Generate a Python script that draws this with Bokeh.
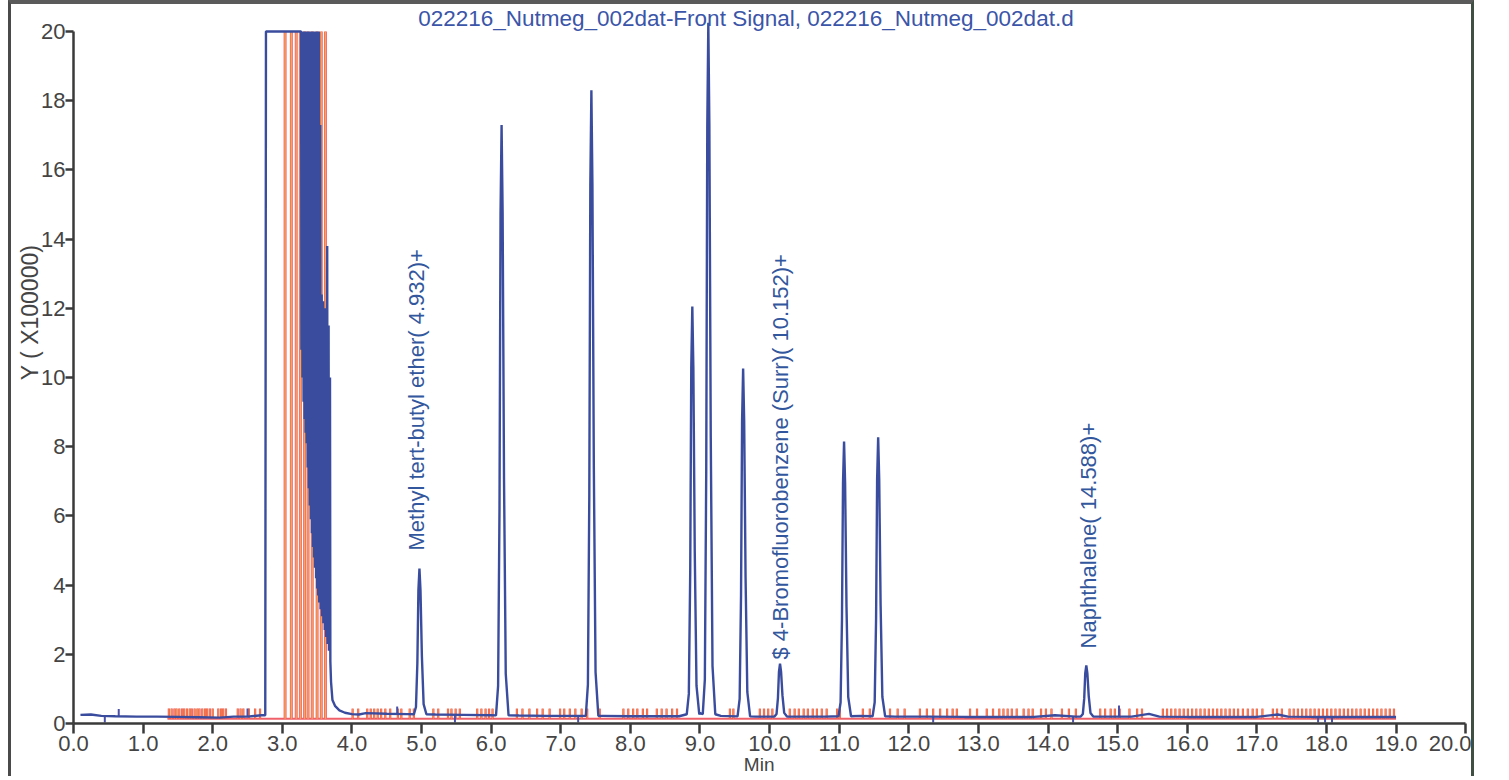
import numpy as np
from math import pi
from bokeh.plotting import figure
from bokeh.models import Range1d, FixedTicker, Label, ColumnDataSource, LinearAxis
from bokeh.core.properties import value
from bokeh.embed import file_html
from bokeh.resources import INLINE

# ---------------- data ----------------
title_text = "022216_Nutmeg_002dat-Front Signal, 022216_Nutmeg_002dat.d"
x_label = "Min"
y_label = "Y ( X100000)"
x_ticks = [float(i) for i in range(0, 21)]
x_tick_labels = ["0.0", "1.0", "2.0", "3.0", "4.0", "5.0", "6.0", "7.0", "8.0", "9.0", "10.0",
                 "11.0", "12.0", "13.0", "14.0", "15.0", "16.0", "17.0", "18.0", "19.0", "20.0"]
y_ticks = [0, 2, 4, 6, 8, 10, 12, 14, 16, 18, 20]
y_tick_labels = ["0", "2", "4", "6", "8", "10", "12", "14", "16", "18", "20"]

# baseline samples (min, signal in units of 100000)
base_t = [0.1, 0.25, 0.4, 0.6, 0.9, 1.2, 1.5, 1.8, 2.1, 2.3, 2.5, 2.7,
          4.2, 4.5, 4.8, 5.2, 5.6, 6.0, 6.4, 6.8, 7.1, 7.6, 8.0, 8.4, 8.7, 9.0, 9.3, 9.8,
          10.4, 10.8, 11.3, 11.8, 12.3, 12.8, 13.3, 13.8, 14.1, 14.4, 14.8, 15.2, 15.45, 15.6,
          16.0, 16.5, 17.0, 17.3, 17.45, 17.8, 18.3, 18.7, 19.0]
base_v = [0.25, 0.26, 0.22, 0.21, 0.2, 0.2, 0.19, 0.18, 0.17, 0.2, 0.2, 0.24,
          0.3, 0.28, 0.27, 0.26, 0.25, 0.24, 0.23, 0.22, 0.22, 0.22, 0.21, 0.21, 0.21, 0.3, 0.22, 0.2,
          0.2, 0.2, 0.22, 0.2, 0.2, 0.19, 0.19, 0.19, 0.24, 0.2, 0.2, 0.2, 0.28, 0.2,
          0.19, 0.19, 0.19, 0.26, 0.2, 0.19, 0.19, 0.19, 0.19]

# solvent front, clipped at full scale (min, signal)
solvent_t = [2.755, 2.765, 3.27,
             3.275, 3.285, 3.29, 3.30, 3.305, 3.315, 3.32, 3.33, 3.335, 3.345, 3.35, 3.36,
             3.365, 3.375, 3.38, 3.39, 3.395, 3.405, 3.41, 3.42, 3.425, 3.435, 3.44, 3.45,
             3.455, 3.465, 3.47, 3.48, 3.485, 3.495, 3.50, 3.51, 3.515, 3.525,
             3.53, 3.545, 3.55, 3.565, 3.57, 3.585, 3.59, 3.605, 3.61, 3.625, 3.63, 3.645,
             3.65, 3.665, 3.67, 3.685, 3.69,
             3.70, 3.72, 3.76, 3.82, 3.90, 4.00, 4.10]
solvent_v = [0.24, 20.0, 20.0,
             10.8, 20.0, 10.0, 20.0, 9.3, 20.0, 8.8, 20.0, 8.4, 20.0, 8.1, 20.0,
             7.4, 20.0, 6.8, 20.0, 6.3, 20.0, 5.9, 20.0, 5.5, 20.0, 5.1, 20.0,
             4.8, 20.0, 4.5, 20.0, 4.2, 20.0, 3.9, 20.0, 3.7, 20.0,
             3.5, 17.3, 3.3, 12.4, 3.1, 12.2, 2.9, 12.0, 2.7, 12.0, 2.5, 13.8,
             2.3, 11.5, 2.1, 10.0, 1.8,
             1.2, 0.68, 0.5, 0.38, 0.31, 0.27, 0.26]

# resolved peaks
peak_rt = [4.97, 6.15, 7.44, 8.89, 9.12, 9.62, 10.15, 11.07, 11.56, 14.55]
peak_height = [4.48, 17.3, 18.3, 12.05, 20.25, 10.26, 1.73, 8.15, 8.27, 1.68]
# peak profile as seen on the trace: offset (min) and fraction of height
profile_dt = [-0.08, -0.05, -0.03, -0.015, 0.0, 0.015, 0.035, 0.06, 0.10]
profile_f = [0.0, 0.05, 0.35, 0.85, 1.0, 0.85, 0.4, 0.07, 0.0]

# identified compounds
peak_labels = ["Methyl tert-butyl ether( 4.932)+",
               "$ 4-Bromofluorobenzene (Surr)( 10.152)+",
               "Naphthalene( 14.588)+"]
label_rt = [4.932, 10.152, 14.588]
label_y = [5.0, 1.85, 2.17]

# integration event marks
mark_span = [1.35, 19.0]
mark_floor = 0.14
mark_top = 0.43
mark_t = [1.37, 1.41, 1.45, 1.48, 1.52, 1.56, 1.59, 1.63, 1.67, 1.70, 1.74, 1.78, 1.81, 1.85,
          1.89, 1.92, 1.96, 2.00, 2.08, 2.12, 2.15, 2.19, 2.36, 2.40, 2.44, 2.52, 2.61, 2.68,
          4.01, 4.09, 4.22, 4.27, 4.32, 4.37, 4.42, 4.48, 4.55, 4.66, 4.71, 4.83, 4.89,
          5.17, 5.24, 5.38, 5.43, 5.49, 5.55, 5.80, 5.86, 5.92, 5.97, 6.02,
          6.37, 6.45, 6.55, 6.66, 6.74, 6.84, 6.99, 7.05, 7.13, 7.21, 7.30, 7.38, 7.56,
          7.90, 7.97, 8.04, 8.10, 8.18, 8.24, 8.38, 8.45, 8.52, 8.60, 8.67, 9.43, 9.48,
          9.86, 9.92, 9.98, 10.04, 10.29, 10.36, 10.42, 10.49, 10.55, 10.62, 10.68, 10.75, 10.82,
          10.97, 11.01, 11.34, 11.44, 11.73, 11.84, 11.94, 12.16, 12.26, 12.35, 12.45, 12.55,
          12.63, 12.69, 12.88, 12.98, 13.12, 13.21, 13.30, 13.36, 13.42, 13.48, 13.55, 13.65,
          13.72, 13.78, 13.90, 13.97, 14.05, 14.20, 14.30, 14.40,
          14.75, 14.82, 14.90, 14.96, 15.03, 15.17, 15.28, 15.35, 15.65, 15.71, 15.77, 15.83,
          15.89, 15.95, 16.01, 16.07, 16.13, 16.19, 16.25, 16.31, 16.37, 16.43, 16.49, 16.55,
          16.61, 16.67, 16.73, 16.80, 16.87, 16.94, 17.00, 17.08, 17.23, 17.29, 17.36,
          17.47, 17.53, 17.59, 17.65, 17.71, 17.77, 17.83, 17.89, 17.95, 18.01, 18.07, 18.13,
          18.19, 18.25, 18.31, 18.37, 18.43, 18.49, 18.55, 18.61, 18.67, 18.73, 18.79, 18.85,
          18.91, 18.97]
solvent_mark_t = [3.04, 3.13, 3.20, 3.26, 3.32, 3.37, 3.43, 3.50, 3.56, 3.62]
solvent_mark_top = 20.0

# small detector event ticks (min, end value)
event_t = [0.45, 0.65, 2.50, 4.65, 5.48, 7.25, 12.35, 14.36, 15.02, 17.88, 17.98, 18.08]
event_v = [0.03, 0.42, 0.43, 0.49, 0.03, 0.03, 0.03, 0.03, 0.52, 0.03, 0.03, 0.03]

# ---------------- build the trace ----------------
pts = []
windows = [(rt + profile_dt[0], rt + profile_dt[-1]) for rt in peak_rt]
for t, v in zip(base_t, base_v):
    if any(a <= t <= b for a, b in windows):
        continue
    if solvent_t[0] <= t <= solvent_t[-1]:
        continue
    pts.append((t, v))
for t, v in zip(solvent_t, solvent_v):
    pts.append((t, v))
for rt, h in zip(peak_rt, peak_height):
    b = float(np.interp(rt, base_t, base_v))
    for dt, f in zip(profile_dt, profile_f):
        pts.append((rt + dt, b + f * (h - b)))
pts.sort(key=lambda p: p[0])
trace = ColumnDataSource(dict(t=[p[0] for p in pts], v=[p[1] for p in pts]))

FONT = "Liberation Sans"
BLUE = "#3a4c9e"
GREY = "#444444"

# frame covers the whole canvas; axes are pinned at 0
p = figure(width=1466, height=776,
           x_range=Range1d(-62 / 69.62, 20.17), y_range=Range1d(-57 / 34.6, 20.78),
           output_backend="svg", toolbar_location=None,
           x_axis_location=None, y_axis_location=None,
           min_border_left=0, min_border_right=0, min_border_top=0, min_border_bottom=0)
p.styles = {"margin-left": "8px",
            "border-left": "3px solid #4a4a4a", "border-top": "4px solid #5a5a5a",
            "border-right": "3px solid #3f4f42"}
p.background_fill_color = "white"
p.border_fill_color = "white"
p.outline_line_color = None
p.xgrid.visible = False
p.ygrid.visible = False

# integration markers
p.segment(x0=mark_span[0], y0=mark_floor, x1=mark_span[1], y1=mark_floor,
          line_color="#f0606a", line_width=2)
mk = ColumnDataSource(dict(t=mark_t, y0=[mark_floor] * len(mark_t), y1=[mark_top] * len(mark_t)))
p.segment(x0="t", y0="y0", x1="t", y1="y1", source=mk, line_color="#f0505a", line_width=2.2)
p.segment(x0="t", y0="y0", x1="t", y1="y1", source=mk, line_color="#f5a640", line_width=0.8)
smk = ColumnDataSource(dict(t=solvent_mark_t, y0=[mark_floor] * len(solvent_mark_t),
                            y1=[solvent_mark_top] * len(solvent_mark_t)))
p.segment(x0="t", y0="y0", x1="t", y1="y1", source=smk, line_color="#f06a70", line_width=3)
p.segment(x0="t", y0="y0", x1="t", y1="y1", source=smk, line_color="#f5a850", line_width=1.2)

# detector event ticks
ev_base = [float(np.interp(t, base_t, base_v)) for t in event_t]
p.segment(x0=event_t, y0=ev_base, x1=event_t, y1=event_v, line_color="#4a50a8", line_width=2)

# trace
p.line("t", "v", source=trace, line_color=BLUE, line_width=2.4)

# compound labels
p.text(x=label_rt, y=label_y, text=peak_labels, angle=pi / 2,
       text_align="left", text_baseline="middle",
       text_font=value(FONT), text_font_size="22px", text_color="#33579d")

# axes
xax = LinearAxis(fixed_location=0, ticker=FixedTicker(ticks=x_ticks),
                 major_label_overrides={t: s for t, s in zip(x_ticks, x_tick_labels)},
                 bounds=(0, 20), major_tick_out=10, major_tick_in=0, major_label_standoff=3)
yax = LinearAxis(fixed_location=0, ticker=FixedTicker(ticks=y_ticks),
                 major_label_overrides={t: s for t, s in zip(y_ticks, y_tick_labels)},
                 bounds=(0, 20), major_tick_out=8, major_tick_in=0, major_label_standoff=0)
for ax in (xax, yax):
    ax.axis_line_color = "#3a3a3a"
    ax.axis_line_width = 2.5
    ax.major_tick_line_color = "#3a3a3a"
    ax.major_tick_line_width = 2.5
    ax.minor_tick_line_color = None
    ax.major_label_text_font = FONT
    ax.major_label_text_font_size = "22px"
    ax.major_label_text_color = GREY
p.add_layout(xax, "below")
p.add_layout(yax, "left")

p.add_layout(Label(x=9.66, y=20.38, text=title_text, text_align="center", text_baseline="middle",
                   text_font=FONT, text_font_size="22.5px", text_color="#3b55a8"))
p.add_layout(Label(x=-0.62, y=11.88, text=y_label, angle=pi / 2, text_align="center",
                   text_baseline="middle", text_font=FONT, text_font_size="23px",
                   text_color=GREY))
p.add_layout(Label(x=9.85, y=-1.5, text=x_label, text_align="center", text_baseline="bottom",
                   text_font=FONT, text_font_size="19px", text_color=GREY))

open("out.html", "w").write(file_html(p, INLINE))
